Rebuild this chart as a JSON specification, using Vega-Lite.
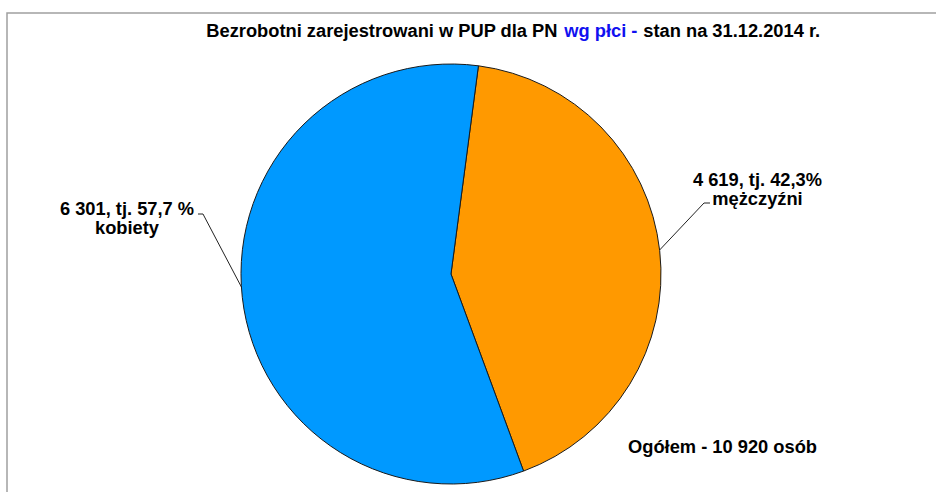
{
  "$schema": "https://vega.github.io/schema/vega-lite/v6.json",
  "width": 936,
  "height": 492,
  "autosize": {"type": "none"},
  "padding": {"left": 7, "top": 13, "right": 0, "bottom": 0},
  "background": "white",
  "config": {
    "view": {"stroke": "#a0a0a0", "strokeWidth": 1.5},
    "text": {"font": "Liberation Sans", "fontWeight": "bold", "fontSize": 18.3}
  },
  "datasets": {
    "slices": [
      {"plec": "mężczyźni", "liczba": 4619, "kolejnosc": 1},
      {"plec": "kobiety", "liczba": 6301, "kolejnosc": 2}
    ],
    "leaders": [
      {"linia": "kobiety", "k": 1, "x": -1.2048, "y": 0.2857},
      {"linia": "kobiety", "k": 2, "x": -1.181, "y": 0.2857},
      {"linia": "kobiety", "k": 3, "x": -0.998, "y": -0.0619},
      {"linia": "mężczyźni", "k": 1, "x": 1.2333, "y": 0.3381},
      {"linia": "mężczyźni", "k": 2, "x": 1.2048, "y": 0.3381},
      {"linia": "mężczyźni", "k": 3, "x": 0.9935, "y": 0.1143}
    ],
    "labels": [
      {"tekst": "6 301, tj. 57,7 %", "x": -1.5429, "y": 0.281},
      {"tekst": "kobiety", "x": -1.5429, "y": 0.189},
      {"tekst": "4 619, tj. 42,3%", "x": 1.4595, "y": 0.419},
      {"tekst": "mężczyźni", "x": 1.4595, "y": 0.3286},
      {"tekst": "Ogółem - 10 920 osób", "x": 1.2929, "y": -0.8538}
    ]
  },
  "layer": [
    {
      "data": {"name": "slices"},
      "mark": {"type": "arc", "outerRadius": 210, "stroke": "#1a1a1a", "strokeWidth": 1},
      "encoding": {
        "x": {"datum": 0, "type": "quantitative", "scale": {"domain": [-2.1143, 2.3429], "nice": false, "zero": false}, "axis": null},
        "y": {"datum": 0, "type": "quantitative", "scale": {"domain": [-1.1, 1.2429], "nice": false, "zero": false}, "axis": null},
        "theta": {"field": "liczba", "type": "quantitative", "stack": true, "scale": {"range": [0.131, 6.4142]}},
        "order": {"field": "kolejnosc", "type": "quantitative"},
        "color": {"field": "plec", "type": "nominal", "scale": {"domain": ["mężczyźni", "kobiety"], "range": ["#FF9900", "#0099FF"]}, "legend": null}
      }
    },
    {
      "data": {"name": "leaders"},
      "mark": {"type": "line", "color": "#222222", "strokeWidth": 1},
      "encoding": {
        "x": {"field": "x", "type": "quantitative", "scale": {"domain": [-2.1143, 2.3429], "nice": false, "zero": false}, "axis": null},
        "y": {"field": "y", "type": "quantitative", "scale": {"domain": [-1.1, 1.2429], "nice": false, "zero": false}, "axis": null},
        "detail": {"field": "linia", "type": "nominal"},
        "order": {"field": "k", "type": "quantitative"}
      }
    },
    {
      "data": {"name": "labels"},
      "mark": {"type": "text", "align": "center", "baseline": "alphabetic", "color": "black"},
      "encoding": {
        "x": {"field": "x", "type": "quantitative", "scale": {"domain": [-2.1143, 2.3429], "nice": false, "zero": false}, "axis": null},
        "y": {"field": "y", "type": "quantitative", "scale": {"domain": [-1.1, 1.2429], "nice": false, "zero": false}, "axis": null},
        "text": {"field": "tekst", "type": "nominal"}
      }
    },
    {
      "data": {"values": [{"tekst": "Bezrobotni zarejestrowani w PUP dla PN", "x": 0.5071, "y": 1.1271}]},
      "mark": {"type": "text", "align": "right", "baseline": "alphabetic", "color": "black"},
      "encoding": {
        "x": {"field": "x", "type": "quantitative", "scale": {"domain": [-2.1143, 2.3429], "nice": false, "zero": false}, "axis": null},
        "y": {"field": "y", "type": "quantitative", "scale": {"domain": [-1.1, 1.2429], "nice": false, "zero": false}, "axis": null},
        "text": {"field": "tekst", "type": "nominal"}
      }
    },
    {
      "data": {"values": [{"tekst": "wg płci -", "x": 0.5395, "y": 1.1271}]},
      "mark": {"type": "text", "align": "left", "baseline": "alphabetic", "color": "#1010F0"},
      "encoding": {
        "x": {"field": "x", "type": "quantitative", "scale": {"domain": [-2.1143, 2.3429], "nice": false, "zero": false}, "axis": null},
        "y": {"field": "y", "type": "quantitative", "scale": {"domain": [-1.1, 1.2429], "nice": false, "zero": false}, "axis": null},
        "text": {"field": "tekst", "type": "nominal"}
      }
    },
    {
      "data": {"values": [{"tekst": "stan na 31.12.2014 r.", "x": 0.9157, "y": 1.1271}]},
      "mark": {"type": "text", "align": "left", "baseline": "alphabetic", "color": "black"},
      "encoding": {
        "x": {"field": "x", "type": "quantitative", "scale": {"domain": [-2.1143, 2.3429], "nice": false, "zero": false}, "axis": null},
        "y": {"field": "y", "type": "quantitative", "scale": {"domain": [-1.1, 1.2429], "nice": false, "zero": false}, "axis": null},
        "text": {"field": "tekst", "type": "nominal"}
      }
    }
  ]
}
